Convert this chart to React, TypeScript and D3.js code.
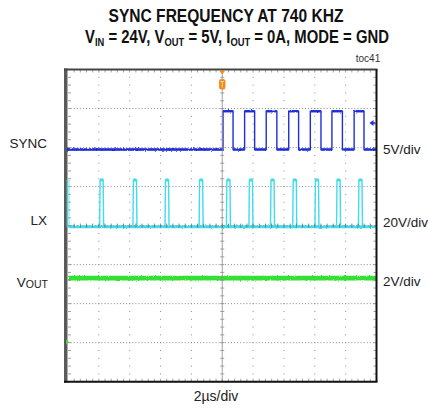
import React from 'react';
import * as d3 from 'd3';

const titleLine1 = 'SYNC FREQUENCY AT 740 KHZ';
const figureTag = 'toc41';
const channelNames = ['SYNC', 'LX', 'VOUT'];
const channelScaleLabels = ['5V/div', '20V/div', '2V/div'];
const timeScaleLabel = '2µs/div';

// time axis: 10 divisions at 2 µs/div, trigger at centre
const timeDomainUs = [-10, 10];
const voltsPerDiv = [5, 20, 2];

// SYNC square wave edges (µs from trigger) and levels (V)
const syncRiseUs = [0.05, 1.45, 2.85, 4.31, 5.71, 7.11, 8.55];
const syncFallUs = [0.7, 2.1, 3.54, 4.95, 6.4, 7.79, 9.19];
const syncHighV = 4.9;
const syncLowV = 0;
const syncTriggerLevelV = 3.4;

// LX switching pulses: start times (µs), width (µs) and levels (V)
const lxPulseStartUs = [-7.95, -5.79, -3.71, -1.5, 0.27, 1.73, 3.13, 4.57, 6.01, 7.41, 8.83];
const lxPulseWidthUs = 0.26;
const lxHighV = 24;
const lxLowV = 0;

// VOUT level relative to its marker (V)
const voutLevelV = 3.27;

// ---- Layout ----
const W = 428;
const H = 408;
const X0 = 68;
const X1 = 376.5;
const Y0 = 69.5;
const Y1 = 381.7;
const DIVX = (X1 - X0) / 10;
const DIVY = (Y1 - Y0) / 8;
const XC = (X0 + X1) / 2;
const YC = (Y0 + Y1) / 2;
// channel ground positions in divisions above the centre line
const groundDiv = [1.95, -0.03, -2.98];

const BLUE = '#1f2fd8';
const CYAN = '#3fdcec';
const GREEN = '#35e035';
const ORANGE = '#f28a1e';
const GRID = '#8a8a8a';

const FONT = 'Liberation Sans, Arial, sans-serif';

export default function App() {
  const x = d3.scaleLinear().domain(timeDomainUs).range([X0, X1]);
  const chScale = (i: number) =>
    d3
      .scaleLinear()
      .domain([0, voltsPerDiv[i]])
      .range([YC - groundDiv[i] * DIVY, YC - (groundDiv[i] + 1) * DIVY]);
  const ySync = chScale(0);
  const yLx = chScale(1);
  const yVout = chScale(2);

  // SYNC trace
  const syncPts: [number, number][] = [[timeDomainUs[0], syncLowV]];
  syncRiseUs.forEach((r, i) => {
    syncPts.push([r, syncLowV], [r, syncHighV], [syncFallUs[i], syncHighV], [syncFallUs[i], syncLowV]);
  });
  syncPts.push([timeDomainUs[1], syncLowV]);
  const syncLine = d3
    .line<[number, number]>()
    .x((d) => x(d[0]))
    .y((d) => ySync(d[1]));
  const syncPlateaus: [number, number, number][] = [];
  syncPlateaus.push([timeDomainUs[0], syncRiseUs[0], syncLowV]);
  syncRiseUs.forEach((r, i) => {
    syncPlateaus.push([r, syncFallUs[i], syncHighV]);
    const next = i + 1 < syncRiseUs.length ? syncRiseUs[i + 1] : timeDomainUs[1];
    syncPlateaus.push([syncFallUs[i], next, syncLowV]);
  });

  // LX trace
  const lxPts: [number, number][] = [[timeDomainUs[0], lxLowV]];
  lxPulseStartUs.forEach((s) => {
    lxPts.push([s, lxLowV], [s + 0.03, lxHighV], [s + lxPulseWidthUs - 0.03, lxHighV], [s + lxPulseWidthUs, lxLowV]);
  });
  lxPts.push([timeDomainUs[1], lxLowV]);
  const lxLine = d3
    .line<[number, number]>()
    .x((d) => x(d[0]))
    .y((d) => yLx(d[1]));

  // grid
  const majorX = d3.range(1, 10).filter((i) => i !== 5).map((i) => X0 + i * DIVX);
  const majorY = d3.range(1, 8).filter((i) => i !== 4).map((i) => Y0 + i * DIVY);
  const minorX = d3.range(1, 50).map((i) => X0 + (i * DIVX) / 5);
  const minorY = d3.range(1, 40).map((i) => Y0 + (i * DIVY) / 5);

  const labelY = [ySync(0) - 2, yLx(0) - 2, yVout(voutLevelV) + 9];

  return (
    <svg width={W} height={H} style={{ position: 'absolute', left: 0, top: 0, background: '#fff' }}>
      <defs>
        <filter id="noise" filterUnits="userSpaceOnUse" x={0} y={0} width={W} height={H}>
          <feTurbulence type="fractalNoise" baseFrequency="0.6 0.6" numOctaves={2} seed={3} result="t" />
          <feDisplacementMap in="SourceGraphic" in2="t" scale={2.5} xChannelSelector="R" yChannelSelector="G" />
        </filter>
      </defs>
      {/* title */}
      <g transform="translate(226,22) scale(0.89,1)">
        <text x={0} y={0} textAnchor="middle" fontFamily={FONT} fontWeight="bold" fontSize={17.5} fill="#111">
          {titleLine1}
        </text>
      </g>
      <g transform="translate(237,43) scale(0.85,1)">
        <text x={0} y={0} textAnchor="middle" fontFamily={FONT} fontWeight="bold" fontSize={17.5} fill="#111">
          <tspan>V</tspan>
          <tspan fontSize={11} dy={3}>IN</tspan>
          <tspan dy={-3}> = 24V, V</tspan>
          <tspan fontSize={11} dy={3}>OUT</tspan>
          <tspan dy={-3}> = 5V, I</tspan>
          <tspan fontSize={11} dy={3}>OUT</tspan>
          <tspan dy={-3}> = 0A, MODE = GND</tspan>
        </text>
      </g>
      <text x={368} y={62} textAnchor="middle" fontFamily={FONT} fontSize={10} fill="#333">
        {figureTag}
      </text>

      {/* dotted grid */}
      {majorX.map((gx, i) => (
        <g key={'vx' + i}>
          {minorY.map((gy, j) => (
            <rect key={j} x={gx - 0.5} y={gy - 0.5} width={1} height={1} fill={GRID} />
          ))}
        </g>
      ))}
      {majorY.map((gy, i) => (
        <g key={'hy' + i}>
          {d3.range(1, 100).map((j) => (
            <rect key={j} x={X0 + (j * DIVX) / 10 - 0.5} y={gy - 0.5} width={1} height={1} fill={GRID} />
          ))}
        </g>
      ))}

      {/* traces */}
      <g filter="url(#noise)">
        <line x1={x(timeDomainUs[0])} x2={x(timeDomainUs[1])} y1={yVout(voutLevelV)} y2={yVout(voutLevelV)} stroke={GREEN} strokeWidth={4.8} />
      </g>
      <g filter="url(#noise)">
        <line x1={x(timeDomainUs[0])} x2={x(timeDomainUs[1])} y1={yLx(lxLowV)} y2={yLx(lxLowV)} stroke={CYAN} strokeWidth={3} />
      </g>
      <path d={lxLine(lxPts) || ''} fill="none" stroke={CYAN} strokeWidth={1.4} />
      {lxPulseStartUs.map((s, i) => (
        <rect key={'lxp' + i} x={x(s) + 0.5} y={yLx(lxHighV) - 1.5} width={3} height={3} fill={CYAN} />
      ))}
      <path d={syncLine(syncPts) || ''} fill="none" stroke={BLUE} strokeWidth={1.4} />
      <g filter="url(#noise)">
        {syncPlateaus.map((p, i) => (
          <line key={'sp' + i} x1={x(p[0])} x2={x(p[1])} y1={ySync(p[2])} y2={ySync(p[2])} stroke={BLUE} strokeWidth={2.4} />
        ))}
      </g>

      {/* centre lines with ticks */}
      <line x1={XC} x2={XC} y1={Y0} y2={Y1} stroke={GRID} strokeWidth={0.8} />
      <line x1={X0} x2={X1} y1={YC} y2={YC} stroke={GRID} strokeWidth={0.6} strokeDasharray="1,2" />
      {minorY.map((gy, j) => (
        <line key={'cty' + j} x1={XC - 2} x2={XC + 2} y1={gy} y2={gy} stroke={GRID} strokeWidth={0.8} />
      ))}
      {minorX.map((gx, j) => (
        <line key={'ctx' + j} x1={gx} x2={gx} y1={YC - 2} y2={YC + 2} stroke="#666" strokeWidth={0.8} />
      ))}
      {/* border ticks */}
      {minorX.map((gx, j) => (
        <g key={'btx' + j}>
          <line x1={gx} x2={gx} y1={Y0} y2={Y0 + 3} stroke={GRID} strokeWidth={0.8} />
          <line x1={gx} x2={gx} y1={Y1} y2={Y1 - 3} stroke={GRID} strokeWidth={0.8} />
        </g>
      ))}
      {minorY.map((gy, j) => (
        <g key={'bty' + j}>
          <line x1={X0} x2={X0 + 3} y1={gy} y2={gy} stroke={GRID} strokeWidth={0.8} />
          <line x1={X1} x2={X1 - 3} y1={gy} y2={gy} stroke={GRID} strokeWidth={0.8} />
        </g>
      ))}

      {/* frame */}
      <rect x={64} y={Y0 - 1} width={3.5} height={Y1 - Y0 + 2} fill="#5a5a5a" />
      <line x1={64} x2={X1 + 1} y1={Y0} y2={Y0} stroke="#444" strokeWidth={2} />
      <line x1={64} x2={X1 + 1} y1={Y1} y2={Y1} stroke="#111" strokeWidth={2} />
      <line x1={X1} x2={X1} y1={Y0} y2={Y1} stroke="#111" strokeWidth={2} />

      {/* channel markers */}
      <path d={`M${X0 - 1},${ySync(0) - 2.5} L${X0 + 2},${ySync(0)} L${X0 - 1},${ySync(0) + 2.5} Z`} fill={BLUE} />
      <rect x={X0 - 1.5} y={yLx(lxHighV)} width={3} height={yLx(lxLowV) - yLx(lxHighV)} fill={CYAN} opacity={0.45} stroke={CYAN} strokeWidth={0.6} />
      <path d={`M${X0 - 2},${yVout(0) - 2.5} L${X0 + 1},${yVout(0)} L${X0 - 2},${yVout(0) + 2.5} Z`} fill={GREEN} />
      {/* trigger level arrow */}
      <path
        d={`M${X1 - 7},${ySync(syncTriggerLevelV)} L${X1 - 3},${ySync(syncTriggerLevelV) - 3} L${X1 - 3},${ySync(syncTriggerLevelV) + 3} Z`}
        fill={BLUE}
      />
      <line x1={X1 - 4} x2={X1 - 1} y1={ySync(syncTriggerLevelV)} y2={ySync(syncTriggerLevelV)} stroke={BLUE} strokeWidth={1.5} />
      {/* trigger position marker */}
      <path d={`M${x(0) - 3},${Y0 + 1} L${x(0) + 3},${Y0 + 1} L${x(0)},${Y0 + 5} Z`} fill={ORANGE} />
      <rect x={x(0) - 3.2} y={Y0 + 9.5} width={6.4} height={10.5} rx={2.5} fill={ORANGE} />
      <line x1={x(0) - 1.8} x2={x(0) + 1.8} y1={Y0 + 12} y2={Y0 + 12} stroke="#ffd9a8" strokeWidth={1} />
      <line x1={x(0)} x2={x(0)} y1={Y0 + 12} y2={Y0 + 18} stroke="#ffd9a8" strokeWidth={1} />

      {/* channel labels */}
      <text x={47} y={labelY[0]} textAnchor="end" fontFamily={FONT} fontSize={13.5} fill="#222">
        {channelNames[0]}
      </text>
      <text x={47} y={labelY[1]} textAnchor="end" fontFamily={FONT} fontSize={13.5} fill="#222">
        {channelNames[1]}
      </text>
      <text x={48} y={labelY[2]} textAnchor="end" fontFamily={FONT} fontSize={13.5} fill="#222">
        <tspan>{channelNames[2].slice(0, 1)}</tspan>
        <tspan fontSize={10.5} dy={1}>{channelNames[2].slice(1)}</tspan>
      </text>
      {channelScaleLabels.map((t, i) => (
        <text key={t} x={383} y={[ySync(0) + 4, yLx(0) + 0, yVout(voutLevelV) + 8][i]} fontFamily={FONT} fontSize={13.5} fill="#222">
          {t}
        </text>
      ))}
      <text x={216} y={401} textAnchor="middle" fontFamily={FONT} fontSize={14} fill="#222">
        {timeScaleLabel}
      </text>
    </svg>
  );
}
